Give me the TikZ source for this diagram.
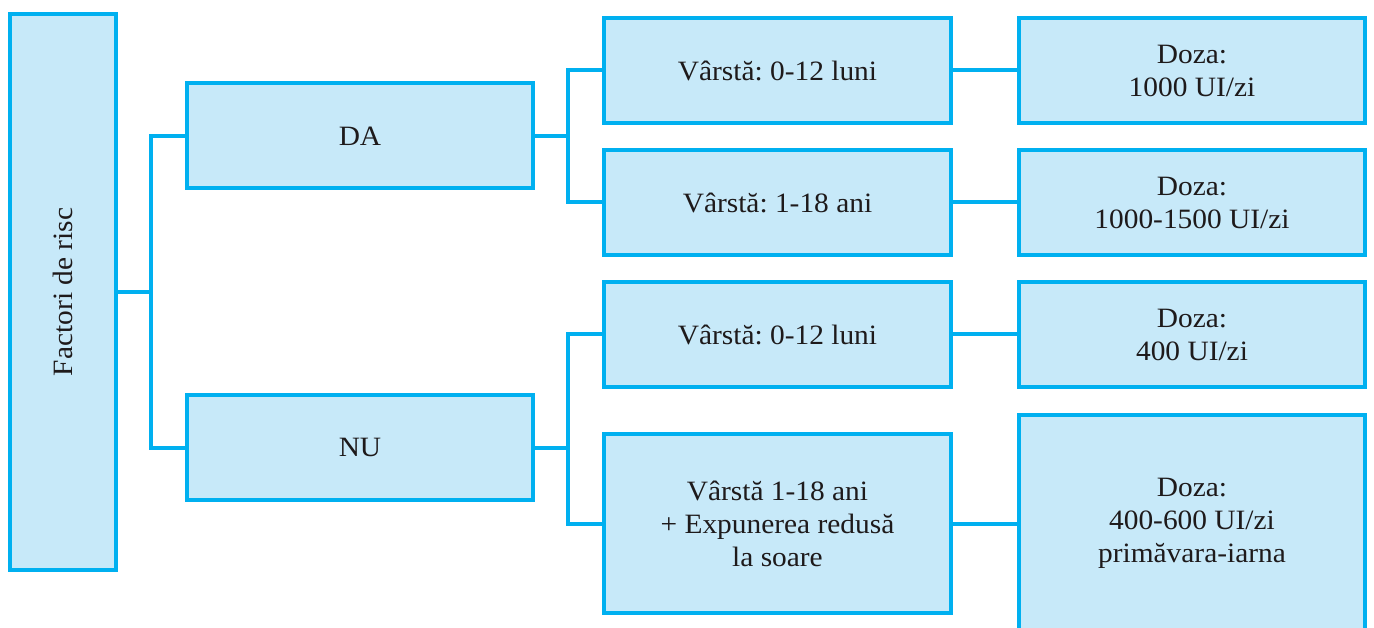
\documentclass[tikz,border=0pt]{standalone}
\usepackage{fontspec}
\setmainfont[FakeStretch=1.05]{Liberation Serif}
\frenchspacing
\definecolor{edgecyan}{RGB}{0,176,240}
\definecolor{boxfill}{RGB}{199,233,249}
\definecolor{inktext}{RGB}{30,26,27}
\begin{document}
\begin{tikzpicture}[x=1pt,y=-1pt,
  box/.style={draw=edgecyan, fill=boxfill, line width=4pt, inner sep=0pt,
    text=inktext, align=center, font=\fontsize{28}{33}\selectfont},
  wide/.style={box, minimum width=346pt, minimum height=105pt},
  link/.style={draw=edgecyan, line width=4pt, line join=miter}]
  \clip (0,0) rectangle (1374,628);
  \fill[white] (0,0) rectangle (1374,628);

  % first column
  \node[box, minimum width=106pt, minimum height=556pt] (risk) at (63,292) {};
  \node[rotate=90, text=inktext, font=\fontsize{28}{33}\selectfont] at (risk.center) {Factori de risc};

  % yes / no
  \node[wide] (da) at (360,136) {DA};
  \node[wide] (nu) at (360,447.5) {NU};

  % age groups
  \node[wide, minimum width=347pt] (v1) at (777.5,70.5) {Vârstă: 0-12 luni};
  \node[wide, minimum width=347pt] (v2) at (777.5,202.5) {Vârstă: 1-18 ani};
  \node[wide, minimum width=347pt] (v3) at (777.5,334.5) {Vârstă: 0-12 luni};
  \node[wide, minimum width=347pt, minimum height=179pt] (v4) at (777.5,523.5)
    {Vârstă 1-18 ani\\+ Expunerea redusă\\la soare};

  % doses
  \node[wide] (d1) at (1192,70.5) {Doza:\\1000 UI/zi};
  \node[wide] (d2) at (1192,202.5) {Doza:\\1000-1500 UI/zi};
  \node[wide] (d3) at (1192,334.5) {Doza:\\400 UI/zi};
  \node[wide, minimum height=217pt] (d4) at (1192,523.5)
    {Doza:\\400-600 UI/zi\\primăvara-iarna};

  % junction points of the tree
  \coordinate (j1) at (151,292);
  \coordinate (j2) at (568,136);
  \coordinate (j3) at (568,447.5);

  \draw[link] (risk.east) -- (j1);
  \draw[link] (da.west) -| (j1) |- (nu.west);
  \draw[link] (da.east) -- (j2);
  \draw[link] (v1.west) -| (j2) |- (v2.west);
  \draw[link] (nu.east) -- (j3);
  \draw[link] (v3.west) -| (j3) |- (v4.west);

  \draw[link] (v1.east) -- (d1.west);
  \draw[link] (v2.east) -- (d2.west);
  \draw[link] (v3.east) -- (d3.west);
  \draw[link] (v4.east) -- (d4.west);
\end{tikzpicture}
\end{document}
